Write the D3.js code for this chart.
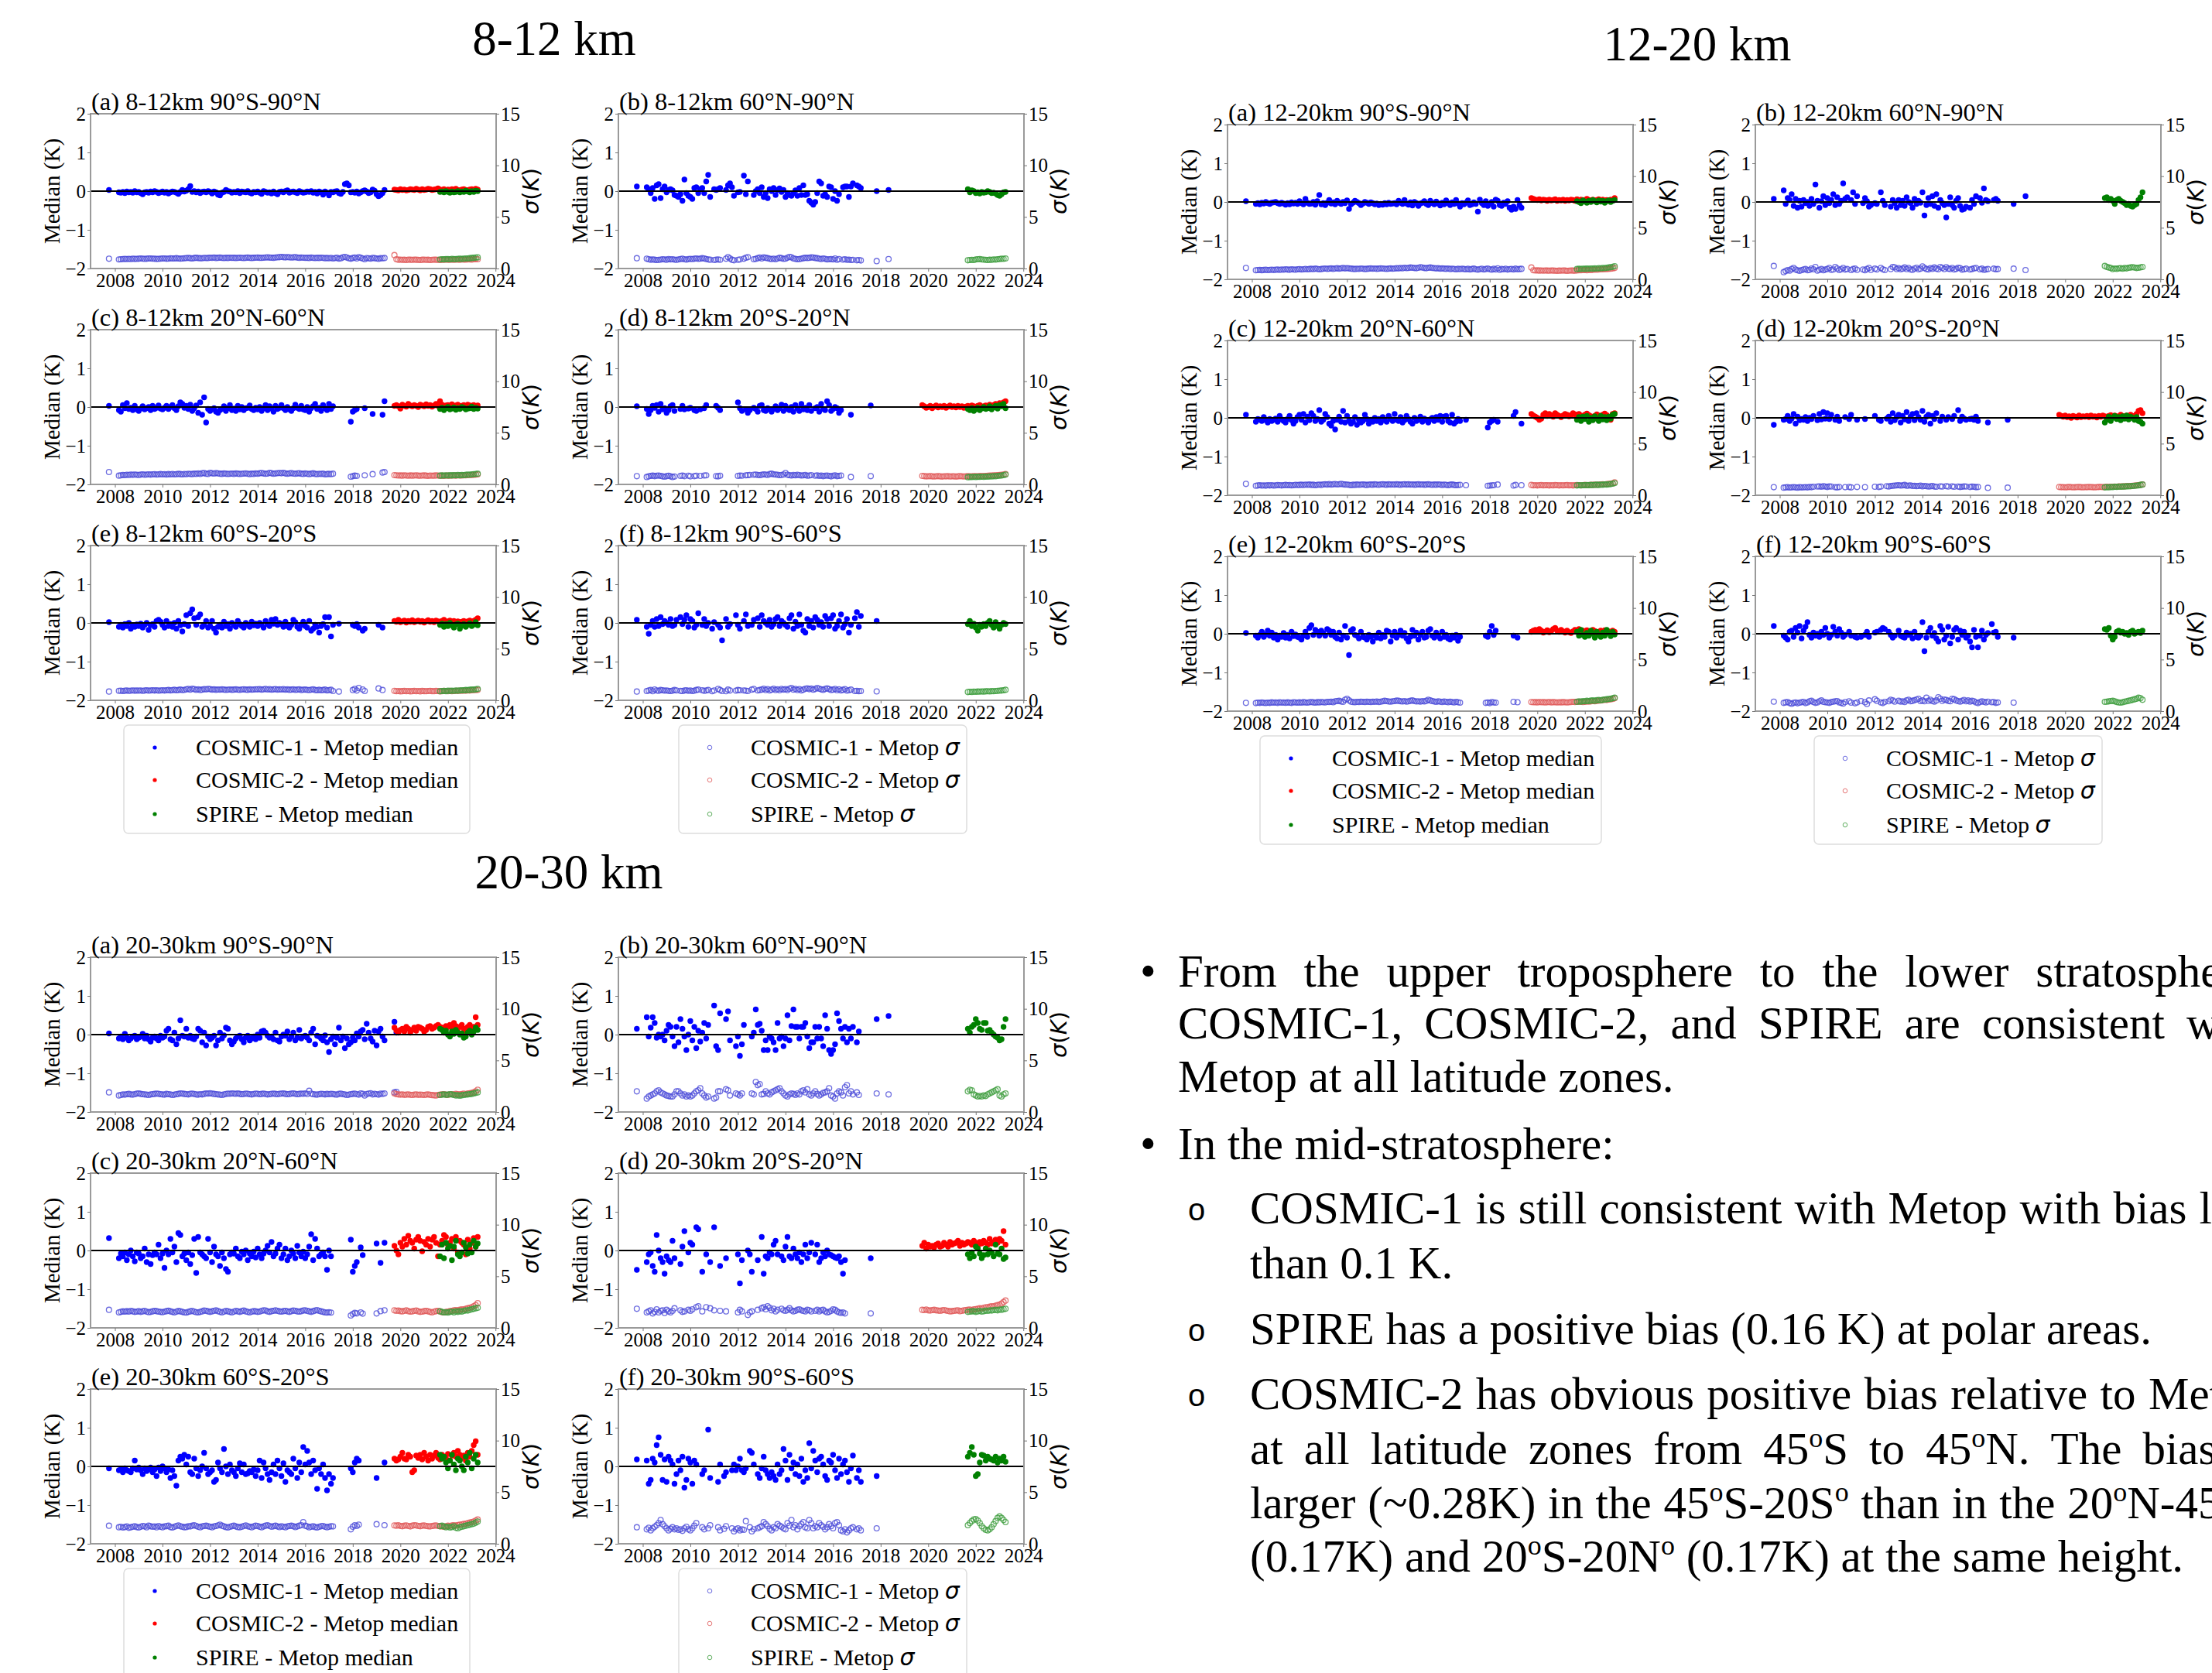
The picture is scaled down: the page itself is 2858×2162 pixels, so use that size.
<!DOCTYPE html>
<html>
<head>
<meta charset="utf-8">
<script src="https://cdn.jsdelivr.net/npm/d3@7"></script>
<style>
  body { margin: 0; background: #fff; }
  svg text { font-family: "Liberation Serif", "Times New Roman", serif; fill: #000; }
</style>
</head>
<body>
<script>
// ---------------------------------------------------------------------------
// data: monthly values, in 0.01 K
// COSMIC-1 starts Oct 2007, COSMIC-2 starts Oct 2019, SPIRE starts Sep 2021
// ---------------------------------------------------------------------------
var n = null;
var c1Start = [2007, 10], c2Start = [2019, 10], spStart = [2021, 9];

var xTicks = [2008, 2010, 2012, 2014, 2016, 2018, 2020, 2022, 2024];
var yLeftTicks = [-2, -1, 0, 1, 2];
var yRightTicks = [0, 5, 10, 15];

// ---- 8-12 km ----
var c1m_812a = [3,n,n,n,n,-3,-4,-2,-5,-1,-3,-2,-4,0,-3,
  -2,-5,-8,-3,-2,-4,-1,-3,0,-2,-5,-3,
  -1,-4,-2,-6,-3,-1,-2,-4,-7,-2,3,-1,
  1,5,13,-2,0,-3,-1,-5,-2,-1,-3,0,
  -2,-6,-1,-3,-9,-11,-4,-2,3,0,-1,-4,
  -2,-3,0,-5,-1,-2,-3,0,-4,-6,-2,-3,
  -1,-4,-7,0,-2,-4,-3,-6,-1,-5,-8,-2,
  -1,-3,0,2,-4,-2,-1,-3,-5,0,-2,-4,
  -3,-1,-2,0,-4,-2,-6,-1,-3,-9,-1,-4,
  -11,-2,-3,-1,0,-5,-7,-2,18,20,15,-3,
  -2,-4,-1,-6,-3,0,2,-1,-5,-3,4,1,
  -8,-13,-10,-5,3];
var c1s_812a = [95,n,n,n,n,88,90,92,93,92,94,92,95,93,94,
  95,97,96,94,95,98,97,96,95,93,94,96,
  98,97,95,96,99,97,98,100,98,96,97,99,
  101,103,100,98,102,104,101,100,99,103,101,102,
  105,103,107,102,104,106,103,101,104,102,105,103,
  104,102,103,105,103,101,104,106,103,102,104,105,
  106,104,103,105,107,108,106,105,104,107,109,110,
  112,110,108,111,109,107,108,110,106,104,107,105,
  103,104,102,106,103,101,104,102,105,103,100,102,
  99,103,98,101,104,96,100,108,112,106,99,95,
  102,107,98,110,104,97,90,101,99,96,103,100,
  97,94,100,99,102];
var c2m_812a = [4,3,2,5,3,4,2,3,5,4,3,6,4,2,5,3,4,6,5,3,4,5,7,4,3,5,2,4,3,5,4,6,3,2,4,5,3,2,4,5,3,6,4];
var c2s_812a = [130,90,85,86,84,85,83,86,85,84,86,85,84,83,85,86,84,85,83,84,86,85,84,83,85,84,86,85,84,86,85,87,86,85,88,87,86,88,89,87,90,91,90];
var spm_812a = [-2,-1,-3,0,-2,-4,-1,-3,-2,0,-3,-1,-2,1,-1,-3,0,-2,1,0];
var sps_812a = [88,90,89,91,92,90,93,92,91,94,95,93,96,98,97,100,102,104,106,108];

var c1m_812b = [12,n,n,n,n,10,5,-5,8,-20,15,18,-18,5,12,
  -3,3,5,2,-10,-12,-15,-8,-25,30,-5,-12,
  -15,-20,8,10,-5,5,8,-5,25,42,-15,n,
  5,3,5,8,n,n,3,15,20,10,-12,n,
  -3,-2,n,40,-8,25,n,n,-10,0,5,-5,
  10,-15,-5,-18,5,0,8,-10,3,7,-2,3,
  -15,-5,-10,-12,-5,2,-12,8,-10,15,-10,-8,
  -25,-30,-35,-28,-5,25,20,-12,-8,-15,12,10,
  -20,0,-25,-8,n,10,12,12,-15,12,20,n,
  15,12,8,n,n,n,n,n,n,n,0,n,
  n,n,n,n,3];
var c1s_812b = [100,n,n,n,n,95,90,85,88,85,82,84,86,90,88,
  85,92,88,90,86,84,88,92,95,90,86,92,
  94,92,95,98,94,96,100,97,92,88,85,n,
  82,86,88,84,n,n,95,110,98,85,80,n,
  84,88,n,95,105,110,n,n,90,94,100,106,
  98,108,104,100,95,92,96,90,98,104,100,94,
  96,105,112,108,98,94,90,92,96,100,104,102,
  104,108,106,102,100,96,92,98,94,88,90,92,
  88,98,84,92,n,86,90,84,86,82,84,n,
  80,82,78,n,n,n,n,n,n,n,72,n,
  n,n,n,n,92];
var spm_812b = [5,-3,2,0,-5,-3,-6,-2,-4,-3,0,-2,-5,-4,-6,-10,-12,-8,-3,-2];
var sps_812b = [80,82,84,83,88,90,92,88,86,84,82,85,84,88,86,90,92,95,94,98];

var c1m_812c = [3,n,n,n,n,-8,-12,5,-3,10,-5,-2,-8,3,-6,
  -10,-4,2,-6,-3,0,-8,3,-5,-2,4,-4,
  -6,-2,3,-5,0,5,-3,-8,2,12,8,-2,
  3,-5,6,-10,-3,4,-15,12,-20,25,-40,-5,
  -10,-6,-3,-12,-15,-8,-5,2,-10,-3,5,-8,
  -4,-10,3,-6,0,-8,-3,-2,4,-5,-8,-2,
  -6,0,-10,-3,5,-8,2,-4,-12,3,-5,-2,
  5,-3,-8,0,-6,-10,-3,6,-2,-5,3,-6,
  -8,0,-12,-3,2,8,-5,-2,-10,5,-3,-8,
  8,-5,2,n,n,n,n,n,n,n,n,-38,
  -12,-8,-5,n,n,n,-3,n,n,n,-18,n,
  n,n,n,-20,15];
var c1s_812c = [120,n,n,n,n,85,88,92,90,94,92,95,93,96,94,
  92,95,97,94,96,98,95,97,99,96,98,100,
  97,99,96,100,98,101,97,99,102,100,98,101,
  99,103,101,100,104,102,106,101,108,110,104,102,
  112,108,105,110,107,104,102,106,104,101,103,105,
  102,106,104,101,103,105,107,103,100,104,102,106,
  104,108,110,106,103,105,112,108,104,106,109,111,
  108,112,106,104,107,110,105,103,106,108,104,102,
  106,103,100,104,108,102,99,103,101,104,98,100,
  102,99,104,n,n,n,n,n,n,n,n,75,
  80,85,82,n,n,n,88,n,n,n,100,n,
  n,n,n,115,120];
var c2m_812c = [3,5,2,-4,6,3,1,8,4,2,5,3,0,6,4,2,7,3,5,1,4,8,3,15,6,2,4,5,3,7,2,4,6,1,3,5,2,6,4,3,5,2,4];
var c2s_812c = [90,88,86,87,85,88,86,84,87,85,86,88,85,84,86,87,85,83,86,84,85,87,86,84,85,83,86,85,84,86,87,85,88,86,87,89,88,90,92,91,93,95,98];
var spm_812c = [-5,-2,-8,-3,0,-6,-4,-1,-7,-3,-5,0,-2,-6,-4,-3,1,-5,-2,-4];
var sps_812c = [85,87,86,88,86,89,87,90,88,91,89,92,90,93,95,94,97,99,101,104];

var c1m_812d = [2,n,n,n,n,-5,-18,-8,3,-2,5,-12,8,-6,-3,
  -15,-8,2,5,-10,n,n,-5,3,-6,n,-4,
  -2,n,-8,-10,n,-6,n,-3,5,n,n,n,
  n,3,-2,-8,n,n,n,n,n,n,n,n,
  12,-3,-10,n,-6,-15,-8,n,-2,-5,-12,3,
  5,-8,-10,-3,-6,-12,-5,2,-8,-3,6,-10,
  3,-5,-8,0,-12,5,-3,-10,8,-6,-2,-8,
  5,-10,n,-3,0,-12,8,-5,-8,15,5,-10,
  -5,0,-3,-15,-8,n,n,n,n,-20,n,n,
  n,n,n,n,n,n,n,4];
var c1s_812d = [80,n,n,n,n,72,78,82,85,80,84,86,82,78,75,
  80,84,78,72,76,n,n,82,86,80,n,84,
  78,n,80,84,n,82,n,86,88,n,n,n,
  n,80,78,84,n,n,n,n,n,n,n,n,
  82,86,84,n,88,90,92,n,94,96,92,90,
  94,98,96,92,100,104,98,96,94,90,92,96,
  110,94,90,86,92,88,94,90,86,88,92,84,
  86,90,n,84,88,82,86,80,84,86,82,78,
  84,88,80,82,86,n,n,n,n,72,n,n,
  n,n,n,n,n,n,n,80];
var c2m_812d = [5,2,-2,0,3,-3,1,4,-1,2,0,3,-2,1,4,0,2,-1,3,0,2,-2,1,3,0,4,2,-1,3,5,0,2,4,1,6,3,5,8,4,10,6,12,15];
var c2s_812d = [82,80,78,79,80,78,77,79,80,78,76,79,78,80,77,79,78,76,78,80,79,77,78,80,79,78,80,81,79,82,80,83,82,84,86,85,88,87,90,92,94,96,100];
var spm_812d = [-5,-8,-3,-10,-6,-2,-8,-4,0,-5,-3,2,-6,-1,3,-4,5,2,8,-3];
var sps_812d = [70,72,71,73,72,74,73,75,74,76,75,78,77,80,79,82,84,86,90,95];

var c1m_812e = [2,n,n,n,n,-10,-5,-12,-3,-8,0,-15,-6,-10,-4,
  -8,-2,-12,-5,0,-18,-6,-3,-10,5,8,3,
  -5,-12,5,-8,-3,-10,0,-15,5,-6,-22,-3,
  20,-8,25,35,12,-5,15,22,-10,-5,5,-12,
  -8,5,-15,-25,-10,-5,-12,3,-8,-3,-15,0,
  -6,-10,5,-3,-8,-12,0,-5,-10,3,-6,-2,
  -8,0,-5,-12,5,-3,-8,8,-2,10,-5,0,
  -3,-10,3,-8,-12,-5,8,2,-10,-15,-5,3,
  -8,-12,5,-20,-15,-5,-10,-25,-8,-3,15,-12,
  15,-35,-5,n,n,-2,n,n,n,n,n,n,
  -5,-8,-3,-12,n,-20,-15,n,n,n,n,n,
  n,-5,n,-12];
var c1s_812e = [85,n,n,n,n,92,94,90,93,95,92,94,96,93,95,
  94,96,92,95,97,94,96,98,95,97,94,96,
  98,95,97,100,96,99,102,98,100,104,99,101,
  106,110,104,112,108,102,106,100,104,108,106,110,
  108,104,106,102,105,103,107,104,101,103,105,102,
  104,106,103,101,105,107,104,102,106,103,105,107,
  106,109,104,107,110,105,108,103,106,109,104,107,
  105,108,103,106,102,104,107,101,104,106,100,103,
  104,101,99,103,106,100,98,102,97,100,104,96,
  99,102,90,n,n,85,n,n,n,n,n,n,
  100,110,95,120,n,105,90,n,n,n,n,n,
  n,115,n,100];
var c2m_812e = [5,3,8,2,4,6,1,5,3,7,2,4,6,3,5,1,4,7,3,5,2,6,4,3,5,8,2,4,6,3,5,2,4,1,3,5,2,4,6,3,5,8,12];
var c2s_812e = [92,88,90,87,89,91,88,90,87,89,92,88,90,87,91,89,88,90,92,89,88,91,90,87,89,92,90,88,91,89,90,92,91,93,92,94,93,96,95,98,100,99,102];
var spm_812e = [-5,-2,-10,-3,-8,0,-6,-12,-4,-2,-15,-7,-3,-10,-5,-1,-8,-4,2,-6];
var sps_812e = [88,90,92,89,93,91,94,92,95,93,96,98,97,100,99,102,104,103,106,110];

var c1m_812f = [8,n,n,n,n,-10,-28,-5,5,-10,10,-8,15,-3,5,
  0,-5,10,-8,-5,8,n,15,-3,8,20,-10,
  10,5,-12,-5,25,n,-5,10,-8,0,n,-15,
  2,n,-5,-12,-45,n,10,-10,-3,n,n,20,
  -5,-15,n,5,22,-8,n,-5,8,n,12,-10,
  20,5,0,-5,8,-10,-3,10,15,-8,5,0,
  -5,-10,12,20,-15,3,-8,22,-5,-20,-25,10,
  -8,5,-12,15,8,-5,2,-10,18,10,-8,12,
  20,-15,-8,5,22,-12,-3,10,-25,-5,n,12,
  28,-10,18,n,n,n,n,n,n,n,5];
var c1s_812f = [85,n,n,n,n,90,95,100,88,105,96,92,100,98,94,
  96,92,90,94,100,96,n,92,90,95,98,92,
  96,90,94,100,104,n,98,92,96,100,n,88,
  96,n,110,100,90,n,88,104,95,n,n,94,
  100,98,n,96,94,90,n,104,110,n,96,100,
  104,112,100,108,96,104,112,100,106,98,110,104,
  108,100,112,120,104,110,100,108,96,104,112,116,
  108,114,104,110,120,112,106,102,110,116,108,100,
  104,110,98,106,96,102,108,94,98,104,n,90,
  92,88,90,n,n,n,n,n,n,n,86];
var spm_812f = [-3,5,-8,-2,-12,-20,-5,-10,-3,-8,0,5,-5,-12,2,-8,-15,-5,0,-3];
var sps_812f = [80,82,81,84,83,85,84,86,85,87,88,86,89,88,90,92,94,95,98,102];

// ---- 12-20 km ----
var c1m_1220a = [2,n,n,n,n,-5,-3,-6,-2,-4,0,-3,-5,-2,-1,
  0,-3,-5,-2,-4,-7,-3,-6,-1,-4,-2,-5,
  2,-3,-6,8,-2,-5,-4,0,-7,2,18,-6,
  -3,-8,-2,5,-4,-1,-6,3,-2,-5,0,-3,
  4,-18,-6,-2,3,0,-3,-8,-4,0,-2,-5,
  -1,-3,-6,-4,-8,-5,-7,-3,-6,-2,-5,-4,
  -3,-6,3,-2,-5,5,-4,-7,-1,-9,0,-3,
  -10,-4,-2,2,-5,-8,3,-3,-6,1,-4,-9,
  -2,-6,4,-3,-8,-1,-5,5,-4,-12,-3,-6,
  -2,4,-8,-6,-1,-5,-25,6,-3,-8,2,-10,
  -5,0,-12,6,3,-8,-10,-2,-5,2,-15,-20,
  -12,-18,5,-8,-15];
var c1s_1220a = [110,n,n,n,n,88,90,92,89,91,93,90,92,94,91,
  93,95,92,96,94,97,95,93,98,96,94,97,
  99,96,98,101,97,100,102,99,104,101,98,100,
  103,105,101,104,106,102,105,108,104,107,110,106,
  109,106,104,102,100,103,101,105,103,100,102,104,
  106,103,105,102,104,107,105,103,101,104,106,103,
  105,108,106,110,107,112,109,111,115,113,110,108,
  112,118,114,110,108,112,115,111,109,106,108,104,
  107,104,102,105,100,103,101,98,102,99,103,100,
  98,102,96,100,104,97,94,99,103,96,100,105,
  98,94,102,96,106,92,100,97,103,95,99,101,
  96,104,98,100,102];
var c2m_1220a = [10,8,6,5,7,4,6,5,3,6,4,5,7,3,5,4,6,3,5,4,6,5,3,7,4,6,5,3,8,5,4,6,3,5,7,4,6,3,5,4,6,5,10];
var c2s_1220a = [115,88,86,87,85,86,84,86,85,84,86,85,84,83,85,84,86,85,83,84,86,85,84,87,89,88,90,91,89,92,90,93,95,94,96,98,97,100,99,102,104,106,110];
var spm_1220a = [2,0,-3,4,1,-2,3,0,5,2,-1,4,1,3,-2,2,4,0,3,5];
var sps_1220a = [100,102,101,103,102,104,103,105,104,106,105,108,107,110,109,112,115,118,122,128];

var c1m_1220b = [8,n,n,n,n,30,-5,10,5,20,-10,8,-15,3,-12,
  5,-3,0,-10,8,-5,45,3,-15,2,15,-8,
  10,-3,5,20,-8,12,-5,3,48,8,12,n,
  5,25,-5,15,n,n,-3,10,2,-12,-8,n,
  -3,-5,n,25,3,-8,n,n,-12,5,-3,-15,
  5,-8,3,-10,12,0,-3,-15,8,-5,3,-2,
  25,-35,-8,10,-5,15,-10,20,-15,5,-3,-8,
  -40,-5,12,-8,-15,3,10,-10,-20,-18,-12,n,
  -15,5,-5,15,n,10,-2,35,5,2,n,n,
  5,8,3,n,n,n,n,n,n,n,-5,n,
  n,n,n,n,15];
var c1s_1220b = [130,n,n,n,n,70,80,90,85,100,110,95,88,82,90,
  95,100,88,92,105,98,120,85,92,100,88,95,
  100,110,92,96,120,105,90,98,110,95,100,n,
  90,100,105,92,n,n,96,88,100,110,92,n,
  104,96,n,110,98,90,n,n,100,120,116,100,
  108,98,104,115,100,110,96,92,105,112,98,104,
  125,110,100,96,108,102,115,104,98,120,110,100,
  118,104,100,110,96,102,112,108,94,98,104,n,
  96,100,106,110,n,98,104,92,96,100,n,n,
  104,98,100,n,n,n,n,n,n,n,104,n,
  n,n,n,n,90];
var spm_1220b = [10,12,5,8,3,-5,5,8,3,0,-3,-8,-5,-10,-12,-8,-5,5,12,25];
var sps_1220b = [130,120,115,110,100,105,102,106,108,104,110,106,112,115,118,114,110,112,116,120];

var c1m_1220c = [8,n,n,n,n,-10,-3,-5,-8,2,-6,-12,-3,-8,-5,
  -2,-10,5,-4,-8,-12,-3,5,-6,-15,-8,2,
  8,-5,10,-12,3,-6,12,5,-8,-3,20,-10,
  -5,10,2,-15,-20,-8,-30,-5,3,-10,18,-12,
  5,-8,-15,-10,2,-18,-5,-12,-8,8,-3,-15,
  -5,-10,0,-8,-3,-12,2,-6,-10,5,-3,-8,
  10,-5,-8,2,-12,-6,5,-3,-10,-15,0,-8,
  -5,3,-10,-2,-6,-12,-4,0,-8,2,-5,5,
  -10,3,5,-8,-12,8,-15,-10,-3,-8,n,n,
  -5,n,n,n,n,n,n,n,n,n,n,-25,
  -12,-8,-5,n,-10,n,n,n,n,n,n,n,
  5,15,n,n,-15];
var c1s_1220c = [110,n,n,n,n,92,95,97,94,96,93,98,95,97,94,
  96,99,97,95,98,100,97,99,96,98,101,99,
  100,102,99,103,101,104,100,102,98,101,103,100,
  105,107,104,108,103,106,109,105,107,110,106,104,
  103,101,98,102,100,104,101,103,105,102,100,103,
  104,102,106,103,101,105,107,104,102,106,103,105,
  103,106,104,102,105,107,104,106,103,105,102,104,
  106,103,105,102,104,106,103,101,104,102,105,103,
  100,103,101,98,102,104,100,97,99,101,n,n,
  98,n,n,n,n,n,n,n,n,n,n,92,
  94,96,98,n,104,n,n,n,n,n,n,n,
  94,100,n,n,98];
var c2m_1220c = [10,6,3,0,-5,-2,8,12,5,10,7,3,12,8,5,2,6,10,8,4,7,12,9,5,10,6,3,8,11,7,4,-3,5,9,6,2,8,11,7,3,-5,10,12];
var c2s_1220c = [100,96,98,95,97,99,96,98,97,95,98,96,99,97,95,98,96,97,99,96,98,95,97,99,98,96,98,100,97,99,101,100,102,101,103,104,106,105,108,110,112,115,125];
var spm_1220c = [-5,2,-8,3,-3,5,-10,0,-6,4,-2,-8,5,-4,2,-6,3,-2,8,10];
var sps_1220c = [95,97,96,98,97,99,98,100,99,101,102,100,103,102,105,104,107,108,112,118];

var c1m_1220d = [-18,n,n,n,n,-5,-3,5,-8,-2,10,-15,3,-6,-3,
  -5,2,-8,0,-3,5,n,-6,10,-4,15,-2,
  12,-3,8,n,-5,3,-8,n,n,2,n,-3,
  8,n,n,-5,n,n,n,-3,n,n,n,n,
  5,n,-5,-8,n,n,-2,3,-10,12,-6,2,
  8,-12,5,-4,15,-8,3,10,-6,12,2,-5,
  18,-10,3,8,-15,5,-3,12,n,-8,3,n,
  -5,2,n,-3,5,n,20,-8,3,-2,-5,n,
  -3,-2,-5,3,-8,n,n,n,n,-12,n,n,
  n,n,n,n,n,n,n,-5];
var c1s_1220d = [78,n,n,n,n,74,76,78,75,77,79,76,74,78,76,
  77,79,76,80,78,82,n,84,86,82,88,84,
  80,86,84,n,78,76,80,n,n,78,n,80,
  76,n,n,80,n,n,n,78,n,n,n,n,
  82,n,80,84,n,n,88,84,90,92,94,96,
  98,94,96,100,92,94,96,90,92,88,90,94,
  86,90,88,84,86,90,84,82,n,86,84,n,
  88,84,n,86,82,n,84,80,82,86,84,n,
  80,84,82,78,80,n,n,n,n,72,n,n,
  n,n,n,n,n,n,n,74];
var c2m_1220d = [8,5,3,6,2,4,0,5,3,1,6,2,4,3,5,2,6,3,4,1,5,3,6,4,2,5,7,3,6,4,2,8,5,3,6,4,8,5,3,10,18,20,12];
var c2s_1220d = [80,78,79,77,78,80,79,77,78,79,80,78,77,79,78,80,79,78,77,79,80,81,79,80,82,81,83,82,84,83,85,86,85,87,88,90,89,92,94,96,98,100,105];
var spm_1220d = [-12,-5,3,-8,0,5,-3,2,-6,4,-2,6,-4,3,0,-5,2,-8,-10,-15];
var sps_1220d = [76,78,77,80,79,82,81,84,83,85,84,87,86,88,90,92,94,96,100,104];

var c1m_1220e = [2,n,n,n,n,-5,-10,-3,5,-8,-2,8,-5,3,-10,
  -3,-15,-5,-8,2,-10,-3,-12,5,-6,-2,-8,
  -10,-15,-5,5,-8,15,22,-3,10,5,-5,8,
  2,-5,12,8,-3,5,-8,-12,3,-15,-5,20,
  -10,-55,8,12,-3,-5,-12,5,-8,-10,-15,-3,
  -8,-20,-5,-10,3,-12,-3,-8,8,5,-20,-5,
  5,-10,-3,8,-5,2,-12,-20,-8,10,-5,3,
  -15,-3,5,-10,-8,8,12,-5,-10,3,-6,-12,
  5,-8,-3,-12,-15,-5,-10,-3,-18,-8,n,n,
  n,n,n,n,n,n,n,n,n,n,-5,-8,
  5,20,-3,8,n,n,n,n,n,n,n,n,
  -5,n,-10];
var c1s_1220e = [80,n,n,n,n,78,82,80,84,81,79,83,80,85,82,
  84,80,86,82,84,81,85,83,80,86,84,82,
  85,83,87,84,82,86,88,85,83,87,85,88,
  86,84,90,88,92,86,95,98,100,94,90,110,
  120,105,92,88,86,90,88,92,90,88,92,90,
  88,92,90,94,88,92,96,100,98,94,92,96,
  98,102,100,96,94,98,92,96,100,104,98,94,
  96,92,98,94,100,110,104,98,94,90,96,92,
  88,94,90,86,92,88,84,90,86,82,n,n,
  n,n,n,n,n,n,n,n,n,n,80,84,
  78,88,84,82,n,n,n,n,n,n,n,n,
  90,n,86];
var c2m_1220e = [5,8,10,6,12,8,3,5,9,4,7,12,15,8,5,10,6,3,8,4,2,6,10,7,12,5,8,3,9,6,4,10,7,2,5,8,4,9,3,6,2,8,5];
var c2s_1220e = [88,86,87,85,88,86,87,85,86,88,85,87,86,84,86,85,87,86,84,86,88,90,89,91,90,92,88,90,94,92,95,98,96,100,102,104,106,110,108,112,115,118,125];
var spm_1220e = [5,-5,10,-3,-8,2,-5,8,0,-10,5,-3,-8,3,-5,10,2,-6,5,-2];
var sps_1220e = [90,95,92,98,96,100,98,102,104,100,106,108,105,110,112,115,118,120,125,130];

var c1m_1220f = [20,n,n,n,n,-5,-10,-15,5,8,-8,15,3,20,-12,
  8,18,30,-3,-10,3,-5,0,-8,5,-3,15,
  0,-10,-3,18,5,-5,12,3,-8,-3,n,5,
  -5,n,-8,-10,n,-8,n,-3,5,-8,n,n,
  3,5,n,10,15,12,n,5,-3,-10,-5,n,
  8,-5,-8,-10,3,-3,0,-12,5,-8,-10,-5,
  30,-45,-10,5,15,-5,2,-12,-20,20,10,-15,
  -5,18,-25,-8,10,15,-15,8,-3,5,-10,-5,
  -20,-35,10,-8,-35,-5,8,-15,-3,2,n,25,
  3,5,-8,n,n,n,n,n,n,n,-10];
var c1s_1220f = [92,n,n,n,n,80,85,88,78,72,80,84,76,82,86,
  90,78,84,95,100,88,80,84,96,104,90,86,
  84,80,88,92,96,98,84,80,74,88,n,96,
  82,n,76,84,n,98,n,86,70,104,n,n,
  115,100,n,84,78,90,n,96,110,104,92,n,
  100,92,96,88,104,110,96,100,106,112,120,98,
  104,96,130,100,110,98,92,104,135,120,100,112,
  108,100,96,120,115,104,98,92,100,108,96,104,
  92,100,96,84,78,88,96,90,84,92,n,86,
  88,80,84,n,n,n,n,n,n,n,82];
var spm_1220f = [12,10,15,-5,-15,-8,5,8,3,5,0,2,-3,5,8,0,3,5,2,8];
var sps_1220f = [90,92,95,98,100,96,88,84,82,86,92,96,100,105,110,115,120,130,125,110];

// ---- 20-30 km ----
var c1m_2030a = [3,n,n,n,n,-10,-5,-12,2,-8,-15,-10,-5,-3,-12,
  -8,-5,2,-10,-3,-12,-18,-8,-5,-10,-15,-3,
  -8,-5,10,15,-12,-15,5,-25,-10,37,-3,-5,
  15,-8,-3,-10,-12,-5,15,10,-20,5,-28,-5,
  -12,-8,-3,-28,-15,5,-10,-2,18,15,-15,-25,
  -18,-10,-5,-3,-12,-20,-8,-3,-15,-10,-5,-12,
  0,-8,8,10,5,-3,-8,-5,-12,5,-15,-18,
  -5,0,-3,8,-12,-5,5,-15,-8,12,-10,-5,
  -3,-8,-15,5,15,-25,-3,-5,-10,-15,-2,-20,
  -45,-12,-5,-25,-8,18,-15,-5,-35,-10,-25,-20,
  -8,-15,3,-5,8,12,-12,28,5,-10,-18,10,
  -28,8,15,-5,-15,n,n,n,n,33,5];
var c1s_2030a = [190,n,n,n,n,160,165,170,168,172,175,170,168,173,178,
  180,175,172,170,168,165,170,172,175,178,176,172,
  170,168,175,172,170,165,168,172,175,180,178,175,
  172,170,176,178,174,170,168,172,170,175,180,178,
  182,178,175,172,170,168,165,170,174,178,176,180,
  178,176,180,175,172,174,178,176,172,170,174,178,
  176,172,175,178,174,170,172,176,178,175,172,176,
  178,180,175,172,174,178,180,176,172,175,178,176,
  180,175,205,178,172,170,168,172,176,174,170,175,
  172,176,174,170,168,175,178,172,170,165,168,172,
  175,178,172,168,180,176,160,174,178,182,170,176,
  172,168,178,175,180,n,n,n,n,190,195];
var c2m_2030a = [18,10,5,12,15,8,20,15,5,12,18,10,20,18,15,8,12,20,22,15,18,22,25,20,18,15,22,20,25,18,30,22,15,20,25,15,8,20,25,15,20,45,25];
var c2s_2030a = [180,172,170,168,170,166,168,170,167,165,168,170,166,168,167,165,168,170,166,164,162,160,165,168,170,172,168,166,170,172,168,175,172,170,174,178,172,180,182,185,190,200,215];
var spm_2030a = [15,12,5,10,0,-5,8,2,12,5,0,3,-8,-5,5,10,0,8,18,12];
var sps_2030a = [165,168,170,166,168,172,170,165,160,162,158,162,165,168,170,172,175,180,185,190];

var c1m_2030b = [15,n,n,n,n,45,-5,18,45,30,-8,0,-5,0,-15,
  10,25,20,-5,-30,20,-20,40,15,-5,-40,0,
  35,-15,20,-35,10,-18,5,30,-10,25,n,n,
  75,-30,-40,55,n,n,40,60,-15,n,n,-30,
  -5,-55,-25,25,n,n,n,-5,5,65,25,28,
  10,-40,-15,-40,-5,-10,-20,-40,30,-10,-5,-30,
  -10,50,-15,22,65,20,20,-10,20,20,30,-5,
  -35,-20,-20,20,-10,20,-10,-30,50,15,-40,-50,
  -40,-25,55,35,15,-10,20,-20,15,-10,20,n,
  -20,8,n,n,n,n,n,n,n,n,40,n,
  n,n,n,n,48];
var c1s_2030b = [200,n,n,n,n,130,150,160,170,180,200,210,190,180,170,
  160,155,150,150,170,200,200,180,160,170,150,160,
  150,160,180,200,210,230,180,160,140,150,n,n,
  130,140,200,200,n,n,220,210,160,n,n,180,
  170,160,180,n,n,n,n,180,170,290,260,270,
  170,175,200,180,170,190,200,210,220,230,200,180,
  160,150,170,180,175,165,180,170,200,210,190,220,
  170,160,180,200,175,160,170,185,190,200,230,160,
  150,130,180,200,190,160,240,260,180,200,170,n,
  190,165,n,n,n,n,n,n,n,n,180,n,
  n,n,n,n,170];
var spm_2030b = [15,5,20,25,40,30,15,12,30,30,10,12,5,0,-5,-8,-15,-12,20,40];
var sps_2030b = [200,215,210,170,160,150,155,150,160,155,170,180,190,200,210,220,160,150,170,180];

var c1m_2030c = [32,n,n,n,n,-20,-8,-15,-5,-25,-10,0,-15,-28,-5,
  -8,-20,-15,5,-30,-10,-35,-12,-5,-10,15,-20,
  -8,-45,0,-10,30,-5,10,-30,45,40,-15,-8,
  -25,-5,-35,-12,30,-58,35,-5,-10,-15,-20,30,
  -5,-30,10,-10,-15,-40,-5,-20,-48,-55,-10,-5,
  -8,5,-15,-20,-3,-10,0,-25,-8,-15,-3,-18,
  5,-10,-20,-8,0,12,-5,22,-15,-8,5,15,
  -20,-10,5,-25,-15,0,-8,-20,12,-5,-15,-3,
  -20,-10,10,42,-25,30,5,-15,-10,-5,-15,-50,
  0,-15,n,n,n,n,n,n,n,n,n,28,
  -55,-40,-30,n,8,-12,n,n,n,n,n,n,
  18,n,-32,n,20];
var c1s_2030c = [175,n,n,n,n,150,155,160,158,162,157,165,160,155,158,
  162,155,160,165,158,152,155,160,165,162,158,155,
  152,158,162,167,160,155,150,158,164,160,155,150,
  148,155,160,165,158,152,150,155,160,168,165,160,
  155,160,165,170,162,155,150,158,165,160,155,150,
  158,165,160,155,162,168,160,155,150,158,162,160,
  155,158,165,170,168,160,155,162,165,170,165,160,
  158,162,165,160,155,162,168,165,160,158,162,168,
  170,165,160,155,162,168,172,165,160,155,150,148,
  152,148,n,n,n,n,n,n,n,n,n,120,
  135,145,140,n,150,138,n,n,n,n,n,n,
  140,n,162,n,170];
var c2m_2030c = [12,0,-10,20,10,30,15,38,25,20,5,28,35,25,-2,22,15,30,10,28,35,20,-15,15,25,40,35,15,20,30,5,35,-5,25,20,15,-10,28,5,20,32,10,35];
var c2s_2030c = [170,165,168,162,160,165,170,162,158,160,165,168,160,155,158,162,165,160,155,150,158,162,165,160,152,150,155,158,162,165,170,172,168,175,180,178,185,190,195,200,210,220,240];
var spm_2030c = [-15,15,-20,20,5,12,-25,10,25,-10,-15,-5,20,8,-8,15,-5,25,10,18];
var sps_2030c = [160,155,150,152,148,155,158,150,160,155,162,158,165,170,168,175,180,185,190,195];

var c1m_2030d = [-50,n,n,n,n,-30,-10,-5,-40,-55,40,0,-20,-30,-60,
  -15,-25,-30,25,-20,n,n,-35,10,50,n,-5,
  20,15,n,60,55,n,-55,n,-10,n,-30,n,
  60,n,n,-40,n,n,-20,n,n,n,n,n,
  -10,-85,-25,n,n,0,-10,-55,n,n,-25,n,
  35,-60,-15,-20,-5,-10,15,25,-10,n,-15,-25,
  10,35,-15,-20,5,-10,-20,-5,-30,-10,15,-20,
  -5,20,n,-10,15,-30,-20,-5,-15,0,-10,-12,
  -15,-18,-20,-15,-30,-60,-25,n,n,n,n,n,
  n,n,n,n,n,n,n,-20];
var c1s_2030d = [185,n,n,n,n,150,160,170,140,155,180,150,165,170,145,
  175,160,150,165,190,n,n,170,155,160,n,175,
  165,180,n,200,210,n,160,n,200,n,190,n,
  170,n,n,165,n,n,160,n,n,n,n,n,
  150,175,160,n,n,125,150,160,n,n,175,n,
  190,200,180,210,195,170,185,160,175,n,185,170,
  165,175,190,170,160,165,175,180,170,165,160,175,
  170,160,n,165,175,160,170,175,160,150,155,165,
  180,175,160,150,145,150,140,n,n,n,n,n,
  n,n,n,n,n,n,n,140];
var c2m_2030d = [12,20,5,15,10,12,8,15,18,10,12,20,15,10,22,15,18,20,25,12,20,15,18,22,20,15,25,20,10,22,18,25,20,15,30,18,22,28,20,30,25,50,15];
var c2s_2030d = [175,172,178,170,168,172,175,170,168,165,170,172,168,165,160,162,165,168,170,162,165,170,172,175,178,172,180,182,185,190,188,195,200,198,205,210,208,215,220,225,235,250,265];
var spm_2030d = [-10,-20,-5,-15,10,5,-8,-20,-12,5,-10,0,-5,-15,15,-8,-10,5,-22,-18];
var sps_2030d = [155,158,160,162,155,160,165,158,162,168,165,170,168,172,175,170,178,175,182,185];

var c1m_2030e = [-5,n,n,n,n,-10,-8,-15,-5,-10,-12,-15,-5,15,-8,
  -3,-10,-20,-5,-12,-8,-3,-15,-8,-25,-3,-12,
  0,-5,-15,-8,-30,-10,-25,-50,15,25,20,30,
  5,25,-15,-20,20,-5,-25,-10,0,35,-5,-20,
  -15,-10,-40,-35,10,-5,-15,45,0,-20,5,-10,
  -15,-25,-5,8,-15,5,-20,-18,-12,-15,-8,-25,
  -10,15,-30,10,-5,-20,-35,-15,5,-20,15,-5,
  -25,8,-40,-10,-15,-20,20,-5,-30,10,-15,50,
  5,40,10,-20,15,-10,-58,-5,-20,5,-30,-62,
  -20,-45,-30,n,n,n,n,n,n,n,n,-5,
  -15,10,20,15,n,n,n,n,n,n,n,n,
  -30,n,n,n,10];
var c1s_2030e = [175,n,n,n,n,160,165,158,162,168,155,160,165,170,162,
  158,165,172,168,160,175,170,165,168,160,172,165,
  160,168,170,175,162,158,165,172,178,170,165,160,
  162,170,168,175,180,172,165,160,168,172,175,170,
  165,160,168,172,178,185,175,168,162,158,165,170,
  175,168,162,160,165,172,178,170,165,160,168,175,
  172,165,160,168,175,180,172,165,170,175,168,162,
  170,165,160,168,172,175,170,162,168,175,180,210,
  175,168,160,165,170,162,158,165,170,172,165,160,
  165,170,168,n,n,n,n,n,n,n,n,140,
  165,180,172,185,n,n,n,n,n,n,n,n,
  190,n,n,n,180];
var c2m_2030e = [20,15,18,25,35,20,18,30,25,-15,-10,28,22,30,18,35,25,15,30,20,28,35,22,18,30,25,20,32,15,28,35,25,40,30,22,28,15,35,25,40,55,65,30];
var c2s_2030e = [178,175,180,172,170,175,178,172,168,175,180,178,172,170,175,178,172,170,168,172,175,178,172,170,168,165,170,175,172,178,180,175,182,185,188,192,195,200,205,210,215,225,235];
var spm_2030e = [30,20,25,10,-5,15,30,5,-10,20,15,0,-10,25,10,35,-5,20,30,10];
var sps_2030e = [170,175,168,160,165,158,162,170,155,150,160,165,170,175,180,185,190,195,205,215];

var c1m_2030f = [18,n,n,n,n,15,-45,-35,20,10,55,75,30,-35,18,
  -40,25,15,5,-45,-20,15,-10,25,-55,-35,20,
  10,-45,15,5,n,n,-20,-10,n,95,-30,n,
  n,n,-40,5,n,-25,-15,n,n,-10,5,-10,
  0,20,-10,-15,-5,n,40,35,5,n,-20,-30,
  -5,25,-10,-20,-30,-15,-25,-35,5,-20,-10,45,
  15,-35,30,-5,10,-20,5,-25,20,-40,-10,-30,
  60,-5,40,15,-15,20,25,5,-25,-35,15,10,
  30,-10,-30,20,-20,5,15,-15,-40,-5,28,n,
  -30,-10,-40,n,n,n,n,n,n,n,-25];
var c1s_2030f = [160,n,n,n,n,140,155,130,150,165,180,200,230,190,170,
  150,130,145,160,140,150,135,140,125,150,165,140,
  130,150,175,200,n,n,160,140,n,150,180,n,
  n,n,160,130,n,145,170,n,n,150,120,140,
  150,130,140,135,220,n,160,120,140,n,150,160,
  170,210,190,170,145,130,160,150,190,175,165,150,
  140,200,175,230,160,180,140,170,190,210,160,150,
  230,200,150,170,160,200,180,165,140,160,190,170,
  150,200,210,180,130,120,140,110,130,150,160,n,
  140,150,130,n,n,n,n,n,n,n,150];
var spm_2030f = [25,35,50,30,-25,-20,10,30,28,15,25,20,18,15,25,10,20,15,25,12];
var sps_2030f = [180,200,220,235,240,225,200,170,150,135,130,140,160,190,220,250,265,250,230,210];

var titles = [
  ["(a) 8-12km 90°S-90°N", "(b) 8-12km 60°N-90°N", "(c) 8-12km 20°N-60°N", "(d) 8-12km 20°S-20°N", "(e) 8-12km 60°S-20°S", "(f) 8-12km 90°S-60°S"],
  ["(a) 12-20km 90°S-90°N", "(b) 12-20km 60°N-90°N", "(c) 12-20km 20°N-60°N", "(d) 12-20km 20°S-20°N", "(e) 12-20km 60°S-20°S", "(f) 12-20km 90°S-60°S"],
  ["(a) 20-30km 90°S-90°N", "(b) 20-30km 60°N-90°N", "(c) 20-30km 20°N-60°N", "(d) 20-30km 20°S-20°N", "(e) 20-30km 60°S-20°S", "(f) 20-30km 90°S-60°S"]
];
var sectionNames = ["8-12 km", "12-20 km", "20-30 km"];
var legendMedian = ["COSMIC-1 - Metop median", "COSMIC-2 - Metop median", "SPIRE - Metop median"];
var legendSigma = ["COSMIC-1 - Metop ", "COSMIC-2 - Metop ", "SPIRE - Metop "];

var series = [
  [[c1m_812a, c1s_812a, c2m_812a, c2s_812a, spm_812a, sps_812a],
   [c1m_812b, c1s_812b, [], [], spm_812b, sps_812b],
   [c1m_812c, c1s_812c, c2m_812c, c2s_812c, spm_812c, sps_812c],
   [c1m_812d, c1s_812d, c2m_812d, c2s_812d, spm_812d, sps_812d],
   [c1m_812e, c1s_812e, c2m_812e, c2s_812e, spm_812e, sps_812e],
   [c1m_812f, c1s_812f, [], [], spm_812f, sps_812f]],
  [[c1m_1220a, c1s_1220a, c2m_1220a, c2s_1220a, spm_1220a, sps_1220a],
   [c1m_1220b, c1s_1220b, [], [], spm_1220b, sps_1220b],
   [c1m_1220c, c1s_1220c, c2m_1220c, c2s_1220c, spm_1220c, sps_1220c],
   [c1m_1220d, c1s_1220d, c2m_1220d, c2s_1220d, spm_1220d, sps_1220d],
   [c1m_1220e, c1s_1220e, c2m_1220e, c2s_1220e, spm_1220e, sps_1220e],
   [c1m_1220f, c1s_1220f, [], [], spm_1220f, sps_1220f]],
  [[c1m_2030a, c1s_2030a, c2m_2030a, c2s_2030a, spm_2030a, sps_2030a],
   [c1m_2030b, c1s_2030b, [], [], spm_2030b, sps_2030b],
   [c1m_2030c, c1s_2030c, c2m_2030c, c2s_2030c, spm_2030c, sps_2030c],
   [c1m_2030d, c1s_2030d, c2m_2030d, c2s_2030d, spm_2030d, sps_2030d],
   [c1m_2030e, c1s_2030e, c2m_2030e, c2s_2030e, spm_2030e, sps_2030e],
   [c1m_2030f, c1s_2030f, [], [], spm_2030f, sps_2030f]]
];

// text on the right of the slide; "^" marks a superscript letter
var bullets = [
  {lvl: 1, lines: ["From the upper troposphere to the lower stratosphere,", "COSMIC-1, COSMIC-2, and SPIRE are consistent with", "Metop at all latitude zones."]},
  {lvl: 1, lines: ["In the mid-stratosphere:"]},
  {lvl: 2, lines: ["COSMIC-1 is still consistent with Metop with bias less", "than 0.1 K."]},
  {lvl: 2, lines: ["SPIRE has a positive bias (0.16 K) at polar areas."]},
  {lvl: 2, lines: ["COSMIC-2 has obvious positive bias relative to Metop", "at all latitude zones from 45^oS to 45^oN. The bias is", "larger (~0.28K) in the 45^oS-20S^o than in the 20^oN-45^oN", "(0.17K) and 20^oS-20N^o (0.17K) at the same height."]}
];

// ---------------------------------------------------------------------------
// layout
// ---------------------------------------------------------------------------
var W = 2858, H = 2162;
var pw = 524, ph = 200;
var layout = [
  {cols: [117, 799], rows: [147, 426, 705], title: [716, 71], legend: {y: 937, boxes: [[160, 447], [877, 372]]}},
  {cols: [1586, 2268], rows: [161, 440, 719], title: [2193, 78], legend: {y: 951, boxes: [[1628, 441], [2344, 372]]}},
  {cols: [117, 799], rows: [1237, 1516, 1795], title: [735, 1148], legend: {y: 2027, boxes: [[160, 447], [877, 372]]}}
];
var colMed = ["#0000ff", "#ff0000", "#008000"];
var colSig = ["#4a4ad8", "#e05858", "#3c9c3c"];

var svg = d3.select("body").append("svg")
    .attr("width", W)
    .attr("height", H);

function monthX(start, i) { return start[0] + (start[1] - 1 + i) / 12; }
function toPoints(start, vals) {
  var out = [];
  vals.forEach(function(v, i) { if (v !== null) out.push({t: monthX(start, i), v: v / 100}); });
  return out;
}
function minus(d) { return d < 0 ? "\u2212" + Math.abs(d) : String(d); }

var x = d3.scaleLinear().domain([2006.975, 2024.025]).range([0, pw]);
var yL = d3.scaleLinear().domain([-2, 2]).range([ph, 0]);
var yR = d3.scaleLinear().domain([0, 15]).range([ph, 0]);

layout.forEach(function(L, s) {
  // section title
  svg.append("text")
      .attr("x", L.title[0]).attr("y", L.title[1])
      .attr("text-anchor", "middle")
      .style("font-size", "63px")
      .text(sectionNames[s]);

  series[s].forEach(function(sr, k) {
    var left = L.cols[k % 2], top = L.rows[Math.floor(k / 2)];
    var g = svg.append("g").attr("transform", "translate(" + left + "," + top + ")");

    var starts = [c1Start, c1Start, c2Start, c2Start, spStart, spStart];

    // sigma (right axis), open circles
    [1, 3, 5].forEach(function(j) {
      g.append("g").selectAll("circle")
        .data(toPoints(starts[j], sr[j]))
        .join("circle")
          .attr("cx", function(d) { return x(d.t); })
          .attr("cy", function(d) { return yR(d.v); })
          .attr("r", 3.4)
          .attr("fill", "none")
          .attr("stroke", colSig[(j - 1) / 2])
          .attr("stroke-opacity", 0.8)
          .attr("stroke-width", 1.3);
    });
    // medians (left axis), filled dots
    [0, 2, 4].forEach(function(j) {
      g.append("g").selectAll("circle")
        .data(toPoints(starts[j], sr[j]))
        .join("circle")
          .attr("cx", function(d) { return x(d.t); })
          .attr("cy", function(d) { return yL(d.v); })
          .attr("r", 3.7)
          .attr("fill", colMed[j / 2]);
    });

    // zero line
    g.append("line")
        .attr("x1", 0).attr("x2", pw)
        .attr("y1", yL(0)).attr("y2", yL(0))
        .attr("stroke", "#000").attr("stroke-width", 2);

    // frame
    g.append("rect")
        .attr("width", pw).attr("height", ph)
        .attr("fill", "none").attr("stroke", "#9a9a9a").attr("stroke-width", 2);

    // axes
    var ax = g.append("g").attr("transform", "translate(0," + ph + ")")
        .call(d3.axisBottom(x).tickValues(xTicks).tickFormat(d3.format("d")).tickSize(4).tickPadding(2));
    var al = g.append("g")
        .call(d3.axisLeft(yL).tickValues(yLeftTicks).tickFormat(minus).tickSize(4).tickPadding(2));
    var ar = g.append("g").attr("transform", "translate(" + pw + ",0)")
        .call(d3.axisRight(yR).tickValues(yRightTicks).tickSize(4).tickPadding(2));
    [ax, al, ar].forEach(function(a) {
      a.select(".domain").remove();
      a.selectAll(".tick line").attr("stroke", "#777");
      a.selectAll("text").style("font-size", "25px").style("font-family", "Liberation Serif");
    });

    // panel title
    g.append("text")
        .attr("x", 1).attr("y", -5)
        .style("font-size", "32.5px")
        .text(titles[s][k]);

    // axis labels
    g.append("text")
        .attr("transform", "translate(-40," + (ph / 2) + ") rotate(-90)")
        .attr("text-anchor", "middle")
        .style("font-size", "29px")
        .text("Median (K)");
    var rl = g.append("text")
        .attr("transform", "translate(" + (pw + 55) + "," + (ph / 2) + ") rotate(-90)")
        .attr("text-anchor", "middle")
        .style("font-size", "29px")
        .style("font-family", "DejaVu Sans");
    rl.append("tspan").style("font-style", "italic").text("\u03c3");
    rl.append("tspan").text("(");
    rl.append("tspan").style("font-style", "italic").text("K");
    rl.append("tspan").text(")");
  });

  // legends
  var boxes = L.legend.boxes;
  [0, 1].forEach(function(b) {
    var bx = boxes[b][0], bw = boxes[b][1], by = L.legend.y;
    var lg = svg.append("g").attr("transform", "translate(" + bx + "," + by + ")");
    lg.append("rect")
        .attr("width", bw).attr("height", 140).attr("rx", 6)
        .attr("fill", "#fff").attr("stroke", "#dddddd").attr("stroke-width", 1.5);
    var rows = [29, 71, 115];
    rows.forEach(function(ry, i) {
      if (b === 0) {
        lg.append("circle").attr("cx", 40).attr("cy", ry).attr("r", 2.6).attr("fill", colMed[i]);
        lg.append("text").attr("x", 93).attr("y", ry + 10).style("font-size", "30px").text(legendMedian[i]);
      } else {
        lg.append("circle").attr("cx", 40).attr("cy", ry).attr("r", 2.8)
            .attr("fill", "none").attr("stroke", colSig[i]).attr("stroke-opacity", 0.8).attr("stroke-width", 1);
        var t = lg.append("text").attr("x", 93).attr("y", ry + 10).style("font-size", "30px");
        t.append("tspan").text(legendSigma[i]);
        t.append("tspan").style("font-family", "DejaVu Sans").style("font-style", "italic").text("\u03c3");
      }
    });
  });
});

// ---------------------------------------------------------------------------
// bullet text
// ---------------------------------------------------------------------------
var bodySize = 59;
var baselines = [1275, 1342, 1411, 1498, 1581, 1652, 1737, 1821, 1892, 1962, 2031];
var rightEdge = 2930;
var textX = {1: 1522, 2: 1615}, markX = {1: 1473, 2: 1535};

function rich(sel, str) {
  var parts = str.split("^");
  sel.append("tspan").text(parts[0]);
  parts.slice(1).forEach(function(p) {
    sel.append("tspan").style("font-size", "36px").attr("dy", -22).text(p.charAt(0));
    if (p.length > 1) sel.append("tspan").attr("dy", 22).text(p.slice(1));
  });
}

var li = 0;
bullets.forEach(function(b) {
  var y0 = baselines[li];
  if (b.lvl === 1) {
    svg.append("text").attr("x", markX[1]).attr("y", y0).style("font-size", bodySize + "px").text("\u2022");
  } else {
    svg.append("text").attr("x", markX[2]).attr("y", y0 - 4)
        .style("font-family", "Liberation Sans").style("font-size", "40px").text("o");
  }
  b.lines.forEach(function(line, j) {
    var y = baselines[li++];
    var x0 = textX[b.lvl];
    var last = j === b.lines.length - 1;
    if (last) {
      var t = svg.append("text").attr("x", x0).attr("y", y).style("font-size", bodySize + "px");
      rich(t, line);
    } else {
      // justified line
      var words = line.split(" ");
      var nodes = words.map(function(w) {
        var t = svg.append("text").attr("y", y).style("font-size", bodySize + "px");
        rich(t, w);
        return t;
      });
      var widths = nodes.map(function(t) { return t.node().getComputedTextLength(); });
      var gap = (rightEdge - x0 - d3.sum(widths)) / (words.length - 1);
      var cx = x0;
      nodes.forEach(function(t, i) { t.attr("x", cx); cx += widths[i] + gap; });
    }
  });
});
</script>
</body>
</html>
